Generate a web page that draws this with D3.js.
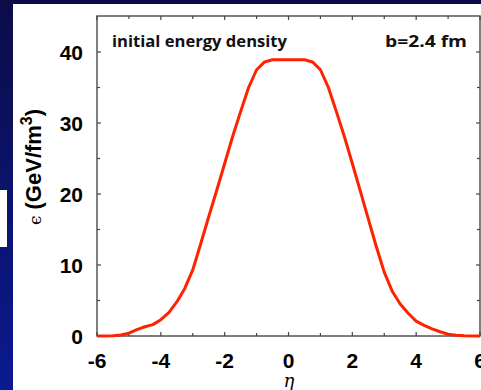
<!DOCTYPE html>
<html><head><meta charset="utf-8">
<script src="https://cdn.jsdelivr.net/npm/d3@7"></script>
<style>html,body{margin:0;padding:0;background:#0a0f5a;}svg{display:block;}</style>
</head><body>
<svg id="c" width="481" height="390"></svg>
<script>
const eta = [-6,-5.5,-5.25,-5,-4.75,-4.5,-4.25,-4,-3.75,-3.5,-3.25,-3,-2.75,-2.5,-2.25,-2,-1.75,-1.5,-1.25,-1,-0.75,-0.5,0,0.5,0.75,1,1.25,1.5,1.75,2,2.25,2.5,2.75,3,3.25,3.5,3.75,4,4.25,4.5,4.75,5,5.25,5.5,6];
const energy = [0,0.05,0.15,0.4,0.9,1.3,1.6,2.3,3.3,4.8,6.7,9.3,13.0,16.8,20.5,24.3,28.1,31.6,35.0,37.5,38.6,38.9,38.9,38.9,38.6,37.5,35.0,31.6,28.1,24.3,20.4,16.5,12.6,9.0,6.3,4.5,3.2,2.1,1.5,1.0,0.6,0.25,0.1,0.03,0];
const xTicks = [-6,-4,-2,0,2,4,6];
const xMinor = [-5,-3,-1,1,3,5];
const yTicks = [0,10,20,30,40];
const yMinor = [5,15,25,35];

const svg = d3.select("#c");
const defs = svg.append("defs");
const g = defs.append("linearGradient").attr("id","bg").attr("x1",0).attr("y1",0).attr("x2",0).attr("y2",1);
g.append("stop").attr("offset","0%").attr("stop-color","#0c0c48");
g.append("stop").attr("offset","100%").attr("stop-color","#0a1a90");
svg.append("rect").attr("width",481).attr("height",390).attr("fill","url(#bg)");
svg.append("rect").attr("x",13).attr("y",4).attr("width",468).attr("height",386).attr("fill","#fff");
svg.append("rect").attr("x",0).attr("y",190).attr("width",7).attr("height",57).attr("fill","#fff");

const x = d3.scaleLinear().domain([-6,6]).range([97,480]);
const y = d3.scaleLinear().domain([0,40]).range([336,52]);

const axColor = "#555";
svg.append("rect").attr("x",97).attr("y",16).attr("width",480-97).attr("height",336-16)
  .attr("fill","none").attr("stroke",axColor).attr("stroke-width",1.5);

const ticks = svg.append("g").attr("stroke","#444").attr("stroke-width",1.2);
xTicks.concat(xMinor).forEach(v=>{
  const L = xTicks.includes(v)?4:3;
  ticks.append("line").attr("x1",x(v)).attr("x2",x(v)).attr("y1",336).attr("y2",336-L);
  ticks.append("line").attr("x1",x(v)).attr("x2",x(v)).attr("y1",16).attr("y2",16+L);
});
yTicks.concat(yMinor).forEach(v=>{
  const L = yTicks.includes(v)?4:3;
  ticks.append("line").attr("x1",97).attr("x2",97+L).attr("y1",y(v)).attr("y2",y(v));
  ticks.append("line").attr("x1",480).attr("x2",480-L).attr("y1",y(v)).attr("y2",y(v));
});

const lab = {"font-family":"Liberation Sans, Arial, sans-serif","font-weight":"bold","font-size":"21px","fill":"#000"};
xTicks.forEach(v=>{
  const t = svg.append("text").attr("x",x(v)).attr("y",368).attr("text-anchor","middle").text(v<0?"-"+Math.abs(v):String(v));
  Object.entries(lab).forEach(([k,val])=>t.attr(k,val));
});
yTicks.forEach(v=>{
  const t = svg.append("text").attr("x",83).attr("y",y(v)+7.5).attr("text-anchor","end").text(String(v));
  Object.entries(lab).forEach(([k,val])=>t.attr(k,val));
});

svg.append("text").attr("x",289).attr("y",387).attr("text-anchor","middle")
  .attr("font-family","DejaVu Serif, serif").attr("font-style","italic").attr("font-size","18px").text("η");
const yl = svg.append("text").attr("transform","translate(41,167) rotate(-90)").attr("text-anchor","middle")
  .attr("font-family","Liberation Sans, Arial, sans-serif").attr("font-weight","bold").attr("font-size","22px").attr("fill","#000");
yl.append("tspan").attr("font-family","DejaVu Serif, serif").attr("font-weight","normal").attr("font-size","17px").text("ϵ");
yl.append("tspan").text(" (GeV/fm");
yl.append("tspan").attr("dy",-9).attr("font-size","16px").text("3");
yl.append("tspan").attr("dy",9).text(")");

svg.append("text").attr("x",112).attr("y",47).attr("font-family","Open Sans, sans-serif").attr("font-weight","700")
  .attr("font-size","15.5px").attr("fill","#111").attr("textLength",175).attr("lengthAdjust","spacingAndGlyphs").text("initial energy density");
svg.append("text").attr("x",385).attr("y",47).attr("font-family","Open Sans, sans-serif").attr("font-weight","700")
  .attr("font-size","15.5px").attr("fill","#111").attr("textLength",82).attr("lengthAdjust","spacingAndGlyphs").text("b=2.4 fm");

const line = d3.line().x((d,i)=>x(eta[i])).y(d=>y(d));
svg.append("path").datum(energy).attr("d",line).attr("fill","none").attr("stroke","#ff2200")
  .attr("stroke-width",3).attr("stroke-linejoin","round");
</script>
</body></html>
